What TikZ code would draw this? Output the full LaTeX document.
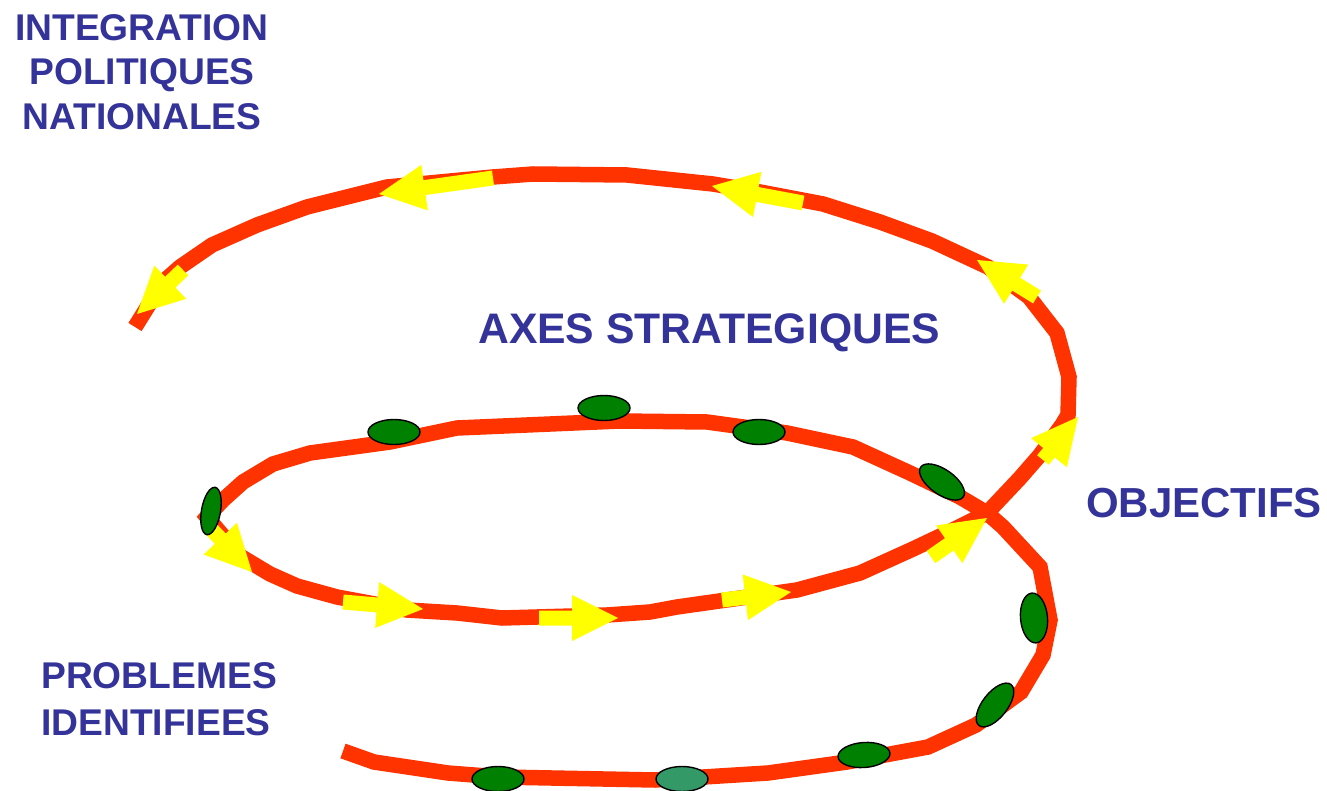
\documentclass[tikz,border=0pt]{standalone}
\usepackage{fontspec}
\setmainfont{Liberation Sans}
\usetikzlibrary{calc,shapes.geometric}
\definecolor{spiralred}{RGB}{255,51,0}
\definecolor{arrowyellow}{RGB}{255,255,0}
\definecolor{dotgreen}{RGB}{0,128,0}
\definecolor{dotlight}{RGB}{51,153,102}
\definecolor{labelblue}{RGB}{51,51,153}
\newcommand{\yarrow}[2]{%
  \coordinate (yb) at ($(#2)!46pt!(#1)$);
  \fill[arrowyellow] ($(#1)!7.5pt!90:(#2)$) -- ($(yb)!7.5pt!90:(#2)$) -- ($(yb)!23pt!90:(#2)$) -- (#2)
    -- ($(yb)!23pt!-90:(#2)$) -- ($(yb)!7.5pt!-90:(#2)$) -- ($(#1)!7.5pt!-90:(#2)$) -- cycle;}
\begin{document}
\begin{tikzpicture}[x=1pt,y=-1pt,
  spiral/.style={draw=spiralred,line width=15.5pt,line join=miter,line cap=butt},
  greendot/.style={ellipse,draw=black,line width=1.4pt,fill=dotgreen,inner sep=0pt,minimum width=52pt,minimum height=25pt},
  titletext/.style={text=labelblue,inner sep=0pt}]
\useasboundingbox (0,0) rectangle (1327,791);
% spiral
\draw[spiral] (343,751) -- (374,762) -- (448,773) -- (500,777) -- (655,780) -- (768,773) -- (847,762)
  -- (928,747) -- (976,725) -- (1021,692) -- (1043,655) -- (1050,620) -- (1040,567) -- (1003,527)
  -- (987,513) -- (960,497) -- (910,473) -- (853,447) -- (787,433) -- (707,422) -- (620,421)
  -- (457,428) -- (390,442) -- (310,453) -- (273,464) -- (243,482) -- (223,500) -- (207,517)
  -- (240,556) -- (270,574) -- (297,586) -- (337,597) -- (407,610) -- (457,613) -- (502,618)
  -- (607,615) -- (650,612) -- (677,607) -- (797,590) -- (860,573) -- (913,549) -- (953,530)
  -- (987,513) -- (1020,478) -- (1040,455) -- (1062,425) -- (1068,415) -- (1069,377) -- (1057,333)
  -- (1029,297) -- (988,267) -- (932,241) -- (880,222) -- (823,204) -- (760,192) -- (713,184)
  -- (627,175) -- (533,174) -- (493,177) -- (387,187) -- (307,207) -- (257,225) -- (212,245)
  -- (180,267) -- (163,282) -- (135,327);
% arrows
\coordinate (a1s) at (212,530);  \coordinate (a1t) at (252,572);
\coordinate (a2s) at (343,602);  \coordinate (a2t) at (423,609);
\coordinate (a3s) at (539,618);  \coordinate (a3t) at (618,618);
\coordinate (a4s) at (722,600);  \coordinate (a4t) at (791,592);
\coordinate (a5s) at (931,557);  \coordinate (a5t) at (987,518);
\coordinate (a6s) at (1043,460); \coordinate (a6t) at (1078,417);
\coordinate (a7s) at (1037,297); \coordinate (a7t) at (977,260);
\coordinate (a8s) at (803,203);  \coordinate (a8t) at (712,186);
\coordinate (a9s) at (493,178);  \coordinate (a9t) at (379,194);
\coordinate (a10s) at (183,270); \coordinate (a10t) at (137,314);
\yarrow{a1s}{a1t}
\yarrow{a2s}{a2t}
\yarrow{a3s}{a3t}
\yarrow{a4s}{a4t}
\yarrow{a5s}{a5t}
\yarrow{a6s}{a6t}
\yarrow{a7s}{a7t}
\yarrow{a8s}{a8t}
\yarrow{a9s}{a9t}
\yarrow{a10s}{a10t}
% green dots
\node[greendot] (d1) at (604,408) {};
\node[greendot] (d2) at (394,432) {};
\node[greendot] (d3) at (759,432) {};
\node[greendot,rotate=-35] (d4) at (942,482) {};
\node[greendot,rotate=80,minimum width=48pt,minimum height=19pt] (d5) at (211,511) {};
\node[greendot,rotate=95,minimum width=50pt,minimum height=27pt] (d6) at (1034,618) {};
\node[greendot,rotate=52] (d7) at (995,705) {};
\node[greendot,rotate=4] (d8) at (864,755) {};
\node[greendot,fill=dotlight] (d9) at (682,779) {};
\node[greendot] (d10) at (498,779) {};
% labels
\node[titletext,anchor=north,align=center,font=\fontsize{37.2}{44.5}\selectfont\bfseries] (integ) at (142,14) {INTEGRATION\\POLITIQUES\\NATIONALES};
\node[titletext,anchor=base west,font=\fontsize{42.7}{50}\selectfont\bfseries] (axes) at (478,343) {AXES STRATEGIQUES};
\node[titletext,anchor=base west,font=\fontsize{42}{50}\selectfont\bfseries] (obj) at (1086,517) {OBJECTIFS};
\node[titletext,anchor=north west,align=left,font=\fontsize{37.2}{47}\selectfont\bfseries] (prob) at (41,662) {PROBLEMES\\IDENTIFIEES};
\end{tikzpicture}
\end{document}
